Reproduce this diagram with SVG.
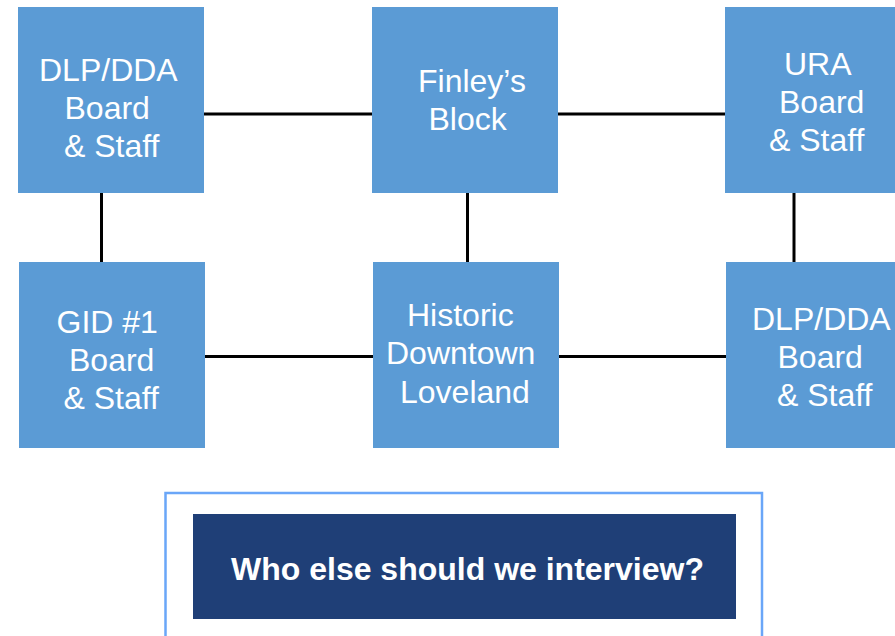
<svg xmlns="http://www.w3.org/2000/svg" width="895" height="636" viewBox="0 0 895 636">
<style>
.node{fill:#5B9BD5}
.lbl{font-family:"Liberation Sans",Arial,sans-serif;font-size:32px;fill:#ffffff}
.conn{stroke:#000000;stroke-width:3;fill:none}
.q{font-family:"Liberation Sans",Arial,sans-serif;font-size:32px;font-weight:bold;fill:#ffffff}
</style>
<rect width="895" height="636" fill="#ffffff"/>
<g id="connectors">
<line class="conn" x1="204" y1="114" x2="372" y2="114"/>
<line class="conn" x1="558" y1="114" x2="725" y2="114"/>
<line class="conn" x1="205" y1="356.5" x2="373" y2="356.5"/>
<line class="conn" x1="559" y1="356.5" x2="726" y2="356.5"/>
<line class="conn" x1="101.5" y1="193" x2="101.5" y2="262"/>
<line class="conn" x1="467.5" y1="193" x2="467.5" y2="262"/>
<line class="conn" x1="794" y1="193" x2="794" y2="262"/>
</g>
<g id="dlp-dda-top">
<rect class="node" x="18" y="7" width="186" height="186"/>
<text class="lbl" x="39" y="81">DLP/DDA</text>
<text class="lbl" x="64.5" y="119">Board</text>
<text class="lbl" x="64" y="157">&amp; Staff</text>
</g>
<g id="finleys-block">
<rect class="node" x="372" y="7" width="186" height="186"/>
<text class="lbl" x="418" y="92">Finley’s</text>
<text class="lbl" x="428.5" y="130">Block</text>
</g>
<g id="ura">
<rect class="node" x="725" y="7" width="175" height="186"/>
<text class="lbl" x="784" y="75">URA</text>
<text class="lbl" x="779" y="113">Board</text>
<text class="lbl" x="769" y="151">&amp; Staff</text>
</g>
<g id="gid1">
<rect class="node" x="19" y="262" width="186" height="186"/>
<text class="lbl" x="56.5" y="333">GID #1</text>
<text class="lbl" x="69" y="371">Board</text>
<text class="lbl" x="63.5" y="409">&amp; Staff</text>
</g>
<g id="historic-downtown">
<rect class="node" x="373" y="262" width="186" height="186"/>
<text class="lbl" x="407" y="326">Historic</text>
<text class="lbl" x="386" y="364">Downtown</text>
<text class="lbl" x="400" y="402.5">Loveland</text>
</g>
<g id="dlp-dda-bottom">
<rect class="node" x="726" y="262" width="175" height="186"/>
<text class="lbl" x="752" y="330">DLP/DDA</text>
<text class="lbl" x="777.5" y="368">Board</text>
<text class="lbl" x="777" y="406">&amp; Staff</text>
</g>
<g id="question">
<rect x="165.5" y="493" width="596.5" height="160" fill="none" stroke="#6AA6F8" stroke-width="2.5"/>
<rect x="193" y="514" width="543" height="105" fill="#1F3F77"/>
<text class="q" x="231" y="580">Who else should we interview?</text>
</g>
</svg>
